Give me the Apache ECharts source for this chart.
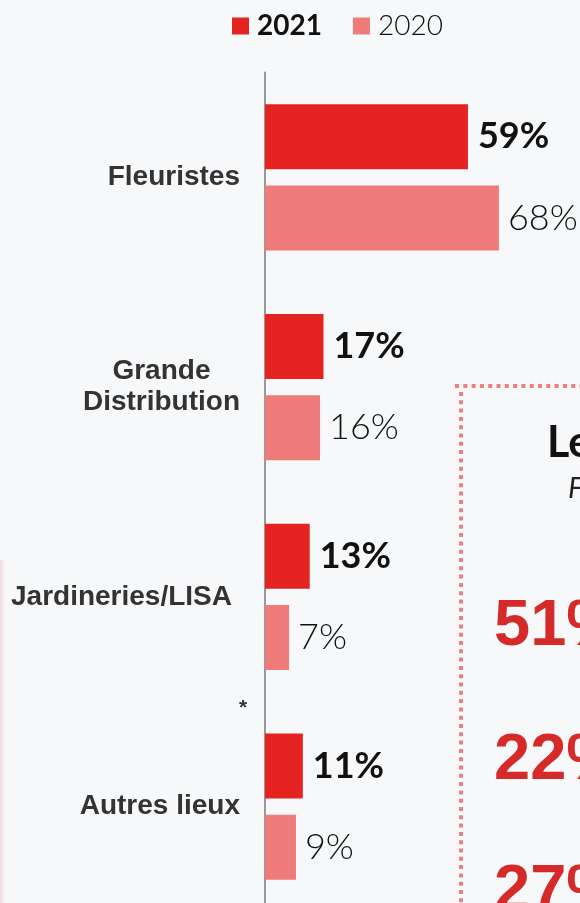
<!DOCTYPE html>
<html>
<head>
<meta charset="utf-8">
<script src="https://cdn.jsdelivr.net/npm/echarts@6/dist/echarts.min.js"></script>
<style>
html,body{margin:0;padding:0;background:#f6f8fa;}
#chart{width:580px;height:903px;}
</style>
</head>
<body>
<div id="chart"></div>
<script>
const categories = ['Fleuristes', 'Grande\nDistribution', 'Jardineries/LISA', 'Autres lieux'];
const seriesNames = ['2021', '2020'];
const values2021 = [59, 17, 13, 11];
const values2020 = [68, 16, 7, 9];
const sideValues = ['51%', '22%', '27%'];

const chart = echarts.init(document.getElementById('chart'));
const geo = 'Lato, "Open Sans", sans-serif';
const sans = '"Liberation Sans", Arial, sans-serif';

const option = {
  backgroundColor: '#f6f8fa',
  animation: false,
  legend: {
    left: 232, top: 12, padding: 0,
    itemWidth: 17, itemHeight: 17, itemGap: 31,
    icon: 'rect',
    textStyle: { fontFamily: geo, fontSize: 28, color: '#111', padding: [0, 0, 0, 3] },
    data: [
      { name: seriesNames[0], textStyle: { fontWeight: 'bold' } },
      { name: seriesNames[1], textStyle: { fontWeight: 300 } }
    ]
  },
  grid: { left: 265, top: 72.5, width: 344, height: 839, containLabel: false, outerBoundsMode: 'none' },
  xAxis: { type: 'value', min: 0, max: 100, show: false },
  yAxis: {
    type: 'category', inverse: true, data: categories,
    axisLine: { show: true, lineStyle: { color: '#999', width: 2 } },
    axisTick: { show: false },
    splitLine: { show: false },
    axisLabel: {
      margin: 25, align: 'right',
      fontFamily: sans, fontWeight: 'bold', fontSize: 28, color: '#333',
      formatter: function (v) {
        if (v.indexOf('\n') >= 0) {
          return v.split('\n').map(s => '{g|' + s + '}').join('\n');
        }
        if (v === 'Jardineries/LISA') return '{j|' + v + '}';
        return '{n|' + v + '}';
      },
      rich: {
        g: { align: 'center', fontFamily: sans, fontWeight: 'bold', fontSize: 28, color: '#333', lineHeight: 31 },
        j: { padding: [0, 8, 0, 0], fontFamily: sans, fontWeight: 'bold', fontSize: 28, color: '#333' },
        n: { fontFamily: sans, fontWeight: 'bold', fontSize: 28, color: '#333' }
      }
    }
  },
  series: [
    {
      name: seriesNames[0], type: 'bar', data: values2021,
      barWidth: 65, barGap: '25%',
      itemStyle: { color: '#e52421' },
      label: { show: true, position: 'right', distance: 10, formatter: '{c}%',
        fontFamily: geo, fontWeight: 'bold', fontSize: 36, color: '#111' }
    },
    {
      name: seriesNames[1], type: 'bar', data: values2020,
      barWidth: 65,
      itemStyle: { color: '#f07b7b' },
      label: { show: true, position: 'right', distance: 9, formatter: '{c}%',
        fontFamily: geo, fontWeight: 300, fontSize: 36, color: '#111' }
    }
  ],
  graphic: [
    { type: 'rect', shape: { x: 0, y: 560, width: 5, height: 343 }, silent: true,
      style: { fill: new echarts.graphic.LinearGradient(0, 0, 1, 0, [
        { offset: 0, color: 'rgba(240,110,110,0.22)' }, { offset: 1, color: 'rgba(240,110,110,0)' }]) } },
    { type: 'text', style: { x: 243, y: 708, text: '*', font: 'bold 21px ' + sans, fill: '#333', textAlign: 'center', textVerticalAlign: 'middle' } },
    { type: 'line', shape: { x1: 455, y1: 386, x2: 580, y2: 386 }, style: { stroke: '#f08080', lineWidth: 4, lineDash: [4, 4.3] } },
    { type: 'line', shape: { x1: 461, y1: 392, x2: 461, y2: 903 }, style: { stroke: '#f08080', lineWidth: 4, lineDash: [4, 4.3] } },
    { type: 'text', style: { x: 547, y: 443, text: 'Le', font: 'bold 43px ' + geo, fill: '#111', textVerticalAlign: 'middle' } },
    { type: 'text', style: { x: 568, y: 489, text: 'F', font: 'italic 29px ' + geo, fill: '#222', textVerticalAlign: 'middle' } },
    { type: 'text', style: { x: 494, y: 627, text: sideValues[0], font: 'bold 65px ' + sans, fill: '#d62a2a', textVerticalAlign: 'middle' } },
    { type: 'text', style: { x: 494, y: 761, text: sideValues[1], font: 'bold 65px ' + sans, fill: '#d62a2a', textVerticalAlign: 'middle' } },
    { type: 'text', style: { x: 494, y: 892, text: sideValues[2], font: 'bold 65px ' + sans, fill: '#d62a2a', textVerticalAlign: 'middle' } }
  ]
};
chart.setOption(option);
</script>
</body>
</html>
